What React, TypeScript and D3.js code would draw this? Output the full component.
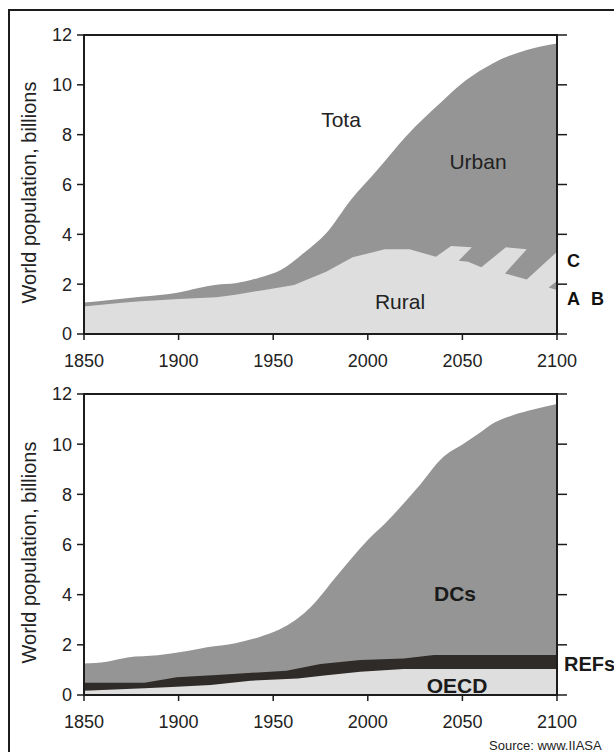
import React from "react";
import * as d3 from "d3";

// ---------- Top panel: total / urban / rural ----------
const totalYears = [1850, 1860, 1870, 1880, 1890, 1900, 1910, 1920, 1930, 1943, 1954, 1966, 1978, 1991, 2005, 2020, 2039, 2052, 2066, 2084, 2100];
const totalPop = [1.26, 1.33, 1.41, 1.49, 1.57, 1.67, 1.84, 1.98, 2.04, 2.27, 2.57, 3.24, 4.04, 5.38, 6.58, 7.92, 9.32, 10.19, 10.86, 11.4, 11.66];

// rural boundary incl. the scenario saw-tooth (A, B, C) – x runs back and forth
const ruralYears = [1850, 1870, 1880, 1900, 1920, 1930, 1943, 1961, 1978, 1992, 2009, 2022, 2036, 2044, 2055, 2048, 2053, 2060, 2073, 2084, 2072.5, 2084, 2100, 2100, 2095.6, 2100];
const ruralPop = [1.1, 1.25, 1.31, 1.4, 1.47, 1.58, 1.74, 1.97, 2.5, 3.08, 3.4, 3.4, 3.1, 3.53, 3.48, 2.94, 2.9, 2.68, 3.48, 3.4, 2.43, 2.19, 3.3, 2.13, 1.87, 1.77];

// ---------- Bottom panel: DCs / REFs / OECD ----------
const dcYears = [1850, 1862, 1873, 1889, 1903, 1915, 1930, 1945, 1956, 1963, 1970, 1984, 2000, 2010, 2026, 2040, 2051, 2060, 2067, 2077, 2088, 2100];
const dcTotal = [1.26, 1.33, 1.5, 1.58, 1.73, 1.9, 2.06, 2.37, 2.72, 3.06, 3.52, 4.78, 6.18, 6.91, 8.24, 9.5, 10.04, 10.5, 10.86, 11.16, 11.39, 11.6];

const refYears = [1850, 1882, 1899, 1920, 1957, 1975, 1996, 2019, 2035, 2100];
const refTop = [0.49, 0.49, 0.71, 0.8, 0.97, 1.24, 1.4, 1.46, 1.59, 1.59];

const oecdYears = [1850, 1882, 1899, 1917, 1938, 1963, 1977, 1996, 2019, 2100];
const oecdTop = [0.17, 0.27, 0.33, 0.4, 0.57, 0.66, 0.78, 0.93, 1.04, 1.04];

const xTicks = [1850, 1900, 1950, 2000, 2050, 2100];
const yTicks = [0, 2, 4, 6, 8, 10, 12];

const C_MID = "#959595";
const C_LIGHT = "#dedede";
const C_DARK = "#2f2b29";
const C_AX = "#1c1c1c";
const FONT = "'Liberation Sans', Arial, Helvetica, sans-serif";

type Pt = [number, number];
const zip = (xs: number[], ys: number[]): Pt[] => xs.map((x, i) => [x, ys[i]] as Pt);

function Panel({ y0, y1, children }: { y0: number; y1: number; children: (x: any, y: any) => React.ReactNode }) {
  const x = d3.scaleLinear().domain([1850, 2100]).range([84, 557]);
  const y = d3.scaleLinear().domain([0, 12]).range([y1, y0]);
  return (
    <g>
      {children(x, y)}
      <rect x={84} y={y0} width={557 - 84} height={y1 - y0} fill="none" stroke={C_AX} strokeWidth={2} />
      {yTicks.map((t) => (
        <g key={"l" + t}>
          <line x1={77} x2={84} y1={y(t)} y2={y(t)} stroke={C_AX} strokeWidth={1.5} />
          <line x1={557} x2={567} y1={y(t)} y2={y(t)} stroke={C_AX} strokeWidth={1.5} />
          <text x={72} y={y(t)} dy="0.36em" textAnchor="end" fontSize={18} fill="#222" fontFamily={FONT}>
            {t}
          </text>
        </g>
      ))}
      {xTicks.map((t) => (
        <g key={"b" + t}>
          <line x1={x(t)} x2={x(t)} y1={y1} y2={y1 + 6} stroke={C_AX} strokeWidth={1.5} />
          <text x={x(t)} y={y1 + 33} textAnchor="middle" fontSize={18} fill="#222" fontFamily={FONT}>
            {t}
          </text>
        </g>
      ))}
      <text
        transform={`translate(31,${(y0 + y1) / 2 + 8}) rotate(-90)`}
        textAnchor="middle"
        dominantBaseline="middle"
        fontSize={20}
        fill="#222"
        fontFamily={FONT}
      >
        World population, billions
      </text>
    </g>
  );
}

export default function App() {
  return (
    <svg width={614} height={752} style={{ position: "absolute", left: 0, top: 0, background: "#fff" }}>
      {/* outer frame */}
      <line x1={8} x2={614} y1={10} y2={10} stroke={C_AX} strokeWidth={2} />
      <line x1={9} x2={9} y1={9} y2={752} stroke={C_AX} strokeWidth={2} />

      <Panel y0={35} y1={334}>
        {(x, y) => {
          const area = d3
            .area<Pt>()
            .x((d) => x(d[0]))
            .y0(y(0))
            .y1((d) => y(d[1]))
            .curve(d3.curveMonotoneX);
          const ruralPoly: Pt[] = [...zip(ruralYears, ruralPop), [2100, 0], [1850, 0]];
          const line = d3
            .line<Pt>()
            .x((d) => x(d[0]))
            .y((d) => y(d[1]));
          return (
            <g>
              <path d={area(zip(totalYears, totalPop)) || ""} fill={C_MID} />
              <path d={(line(ruralPoly) || "") + "Z"} fill={C_LIGHT} />
              <text x={341} y={127} textAnchor="middle" fontSize={21} fill="#222" fontFamily={FONT}>Tota</text>
              <text x={478} y={169} textAnchor="middle" fontSize={21} fill="#222" fontFamily={FONT}>Urban</text>
              <text x={400} y={309} textAnchor="middle" fontSize={21} fill="#222" fontFamily={FONT}>Rural</text>
              <text x={567} y={267} fontSize={18} fontWeight="bold" fill="#111" fontFamily={FONT}>C</text>
              <text x={567} y={305} fontSize={18} fontWeight="bold" fill="#111" fontFamily={FONT}>A</text>
              <text x={591} y={305} fontSize={18} fontWeight="bold" fill="#111" fontFamily={FONT}>B</text>
            </g>
          );
        }}
      </Panel>

      <Panel y0={394} y1={695}>
        {(x, y) => {
          const area = (curve: any) =>
            d3
              .area<Pt>()
              .x((d) => x(d[0]))
              .y0(y(0))
              .y1((d) => y(d[1]))
              .curve(curve);
          return (
            <g>
              <path d={area(d3.curveMonotoneX)(zip(dcYears, dcTotal)) || ""} fill={C_MID} />
              <path d={area(d3.curveLinear)(zip(refYears, refTop)) || ""} fill={C_DARK} />
              <path d={area(d3.curveLinear)(zip(oecdYears, oecdTop)) || ""} fill={C_LIGHT} />
              <text x={455} y={601} textAnchor="middle" fontSize={21} fontWeight="bold" fill="#1a1a1a" fontFamily={FONT}>DCs</text>
              <text x={457} y={693} textAnchor="middle" fontSize={21} fontWeight="bold" fill="#1a1a1a" fontFamily={FONT}>OECD</text>
              <text x={564} y={671} fontSize={20} fontWeight="bold" fill="#1a1a1a" fontFamily={FONT}>REFs</text>
            </g>
          );
        }}
      </Panel>

      <text x={489} y={750} fontSize={13} fill="#222" fontFamily={FONT}>Source: www.IIASA</text>
    </svg>
  );
}
